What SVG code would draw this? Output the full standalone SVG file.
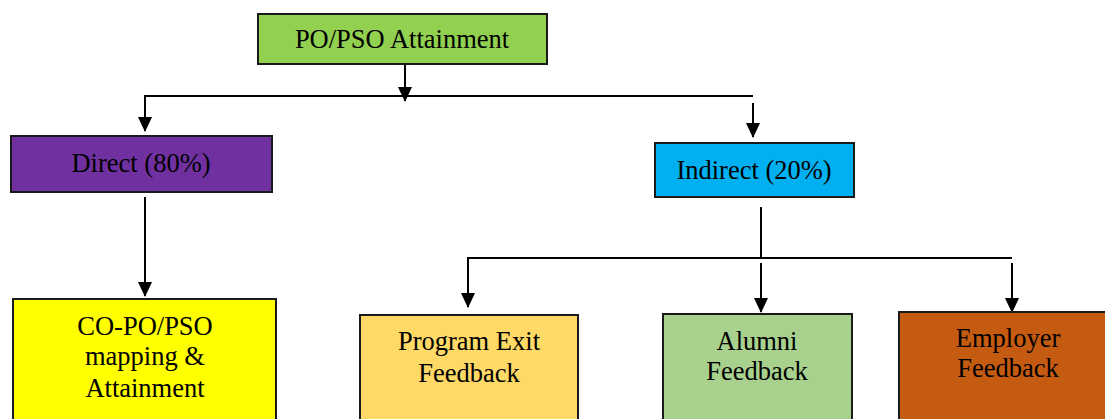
<svg xmlns="http://www.w3.org/2000/svg" width="1105" height="419" viewBox="0 0 1105 419">
<style>
.box{stroke:#1a1a1a;stroke-width:2}
.t{font-family:"Liberation Serif","Times New Roman",serif;font-size:26.5px;fill:#000;text-anchor:middle}
.c{stroke:#000;stroke-width:2;fill:none}
</style>
<defs>
<marker id="ah" markerUnits="userSpaceOnUse" markerWidth="16" markerHeight="16" viewBox="0 0 16 16" refX="14" refY="8" orient="auto">
<path d="M0,1 L15,8 L0,15 Z" fill="#000"/>
</marker>
</defs>
<rect width="1105" height="419" fill="#fff"/>
<g id="connectors">
<line class="c" x1="405" y1="64" x2="405" y2="101" marker-end="url(#ah)"/>
<polyline class="c" points="753,96 145,96 145,131" marker-end="url(#ah)"/>
<line class="c" x1="753" y1="103" x2="753" y2="137" marker-end="url(#ah)"/>
<line class="c" x1="145" y1="197" x2="145" y2="296" marker-end="url(#ah)"/>
<line class="c" x1="761" y1="207" x2="761" y2="258"/>
<polyline class="c" points="1012,258 468,258 468,307" marker-end="url(#ah)"/>
<line class="c" x1="761" y1="263" x2="761" y2="312" marker-end="url(#ah)"/>
<line class="c" x1="1012" y1="263" x2="1012" y2="312" marker-end="url(#ah)"/>
</g>
<g id="po-pso">
<rect class="box" x="258" y="14" width="289" height="50" fill="#92D050"/>
<text class="t" x="402" y="48">PO/PSO Attainment</text>
</g>
<g id="direct">
<rect class="box" x="11" y="136" width="261" height="56" fill="#7030A0"/>
<text class="t" x="141" y="172">Direct (80%)</text>
</g>
<g id="indirect">
<rect class="box" x="655" y="143" width="199" height="54" fill="#00B0F0"/>
<text class="t" x="754" y="179">Indirect (20%)</text>
</g>
<g id="co-po">
<rect class="box" x="13" y="299" width="263" height="130" fill="#FFFF00"/>
<text class="t" x="145" y="335">CO-PO/PSO</text>
<text class="t" x="145" y="365">mapping &amp;</text>
<text class="t" x="145" y="397">Attainment</text>
</g>
<g id="program-exit">
<rect class="box" x="360" y="315" width="218" height="115" fill="#FFD966"/>
<text class="t" x="469" y="350">Program Exit</text>
<text class="t" x="469" y="382">Feedback</text>
</g>
<g id="alumni">
<rect class="box" x="663" y="314" width="189" height="116" fill="#A9D18E"/>
<text class="t" x="757" y="350">Alumni</text>
<text class="t" x="757" y="380">Feedback</text>
</g>
<g id="employer">
<rect class="box" x="899" y="312" width="215" height="118" fill="#C55A11"/>
<text class="t" x="1008" y="347">Employer</text>
<text class="t" x="1008" y="377">Feedback</text>
</g>
</svg>
